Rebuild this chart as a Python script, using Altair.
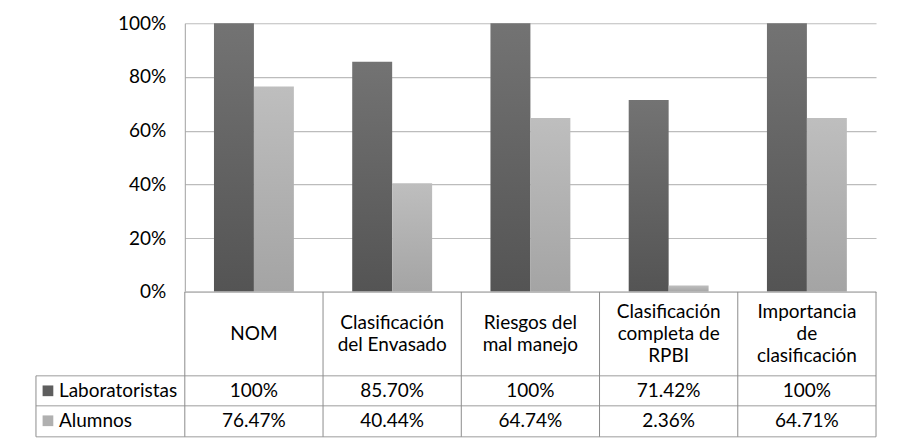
import altair as alt
import pandas as pd

categorias = ["NOM", "Clasificación del Envasado", "Riesgos del mal manejo",
              "Clasificación completa de RPBI", "Importancia de clasificación"]
encabezados = ["NOM", "Clasificación\ndel Envasado", "Riesgos del\nmal manejo",
               "Clasificación\ncompleta de\nRPBI", "Importancia\nde\nclasificación"]
series = ["Laboratoristas", "Alumnos"]
laboratoristas = [1.00, 0.857, 1.00, 0.7142, 1.00]
alumnos = [0.7647, 0.4044, 0.6474, 0.0236, 0.6471]
etiquetas_lab = ["100%", "85.70%", "100%", "71.42%", "100%"]
etiquetas_alu = ["76.47%", "40.44%", "64.74%", "2.36%", "64.71%"]
y_ticks = [0, 0.2, 0.4, 0.6, 0.8, 1.0]

rows = []
for c, v, e in zip(categorias, laboratoristas, etiquetas_lab):
    rows.append({"cat": c, "serie": "Laboratoristas", "valor": v, "etiqueta": e})
for c, v, e in zip(categorias, alumnos, etiquetas_alu):
    rows.append({"cat": c, "serie": "Alumnos", "valor": v, "etiqueta": e})
df = pd.DataFrame(rows)
df_cab = pd.DataFrame({"cat": categorias, "texto": encabezados,
                       "n": [t.count("\n") + 1 for t in encabezados]})
df_leg = pd.DataFrame({"serie": series})
df_one = pd.DataFrame({"k": [0]})

W, H = 692, 269
FONT = "Lato"
FS = 19
LH = 22
ROW1, ROW2 = 368, 398
HEAD_MID = 311
TAB_TOP, TAB_R1, TAB_R2, TAB_BOT = H, 353, 383, 414
LEFT = -149

y_axis = alt.Axis(values=y_ticks, format="%", grid=True, gridColor="#bcbcbc", gridWidth=1.2,
                  domain=True, domainColor="#a0a0a0", ticks=False, tickSize=0,
                  labelPadding=19, labelFontSize=FS, labelFont=FONT, labelColor="#000000",
                  title=None)
x_bar = alt.X("cat:N", sort=categorias,
              scale=alt.Scale(type="band", domain=categorias, paddingInner=0.422, paddingOuter=0.211),
              axis=None)
x_off = alt.XOffset("serie:N", sort=series,
                    scale=alt.Scale(domain=series, paddingInner=0, paddingOuter=0))
y_enc = alt.Y("valor:Q", scale=alt.Scale(domain=[0, 1], nice=False), axis=y_axis)

grad_dark = alt.Gradient(gradient="linear", x1=0, x2=0, y1=0, y2=1,
                         stops=[alt.GradientStop(color="#737373", offset=0),
                                alt.GradientStop(color="#545454", offset=1)])
grad_light = alt.Gradient(gradient="linear", x1=0, x2=0, y1=0, y2=1,
                          stops=[alt.GradientStop(color="#bebebe", offset=0),
                                 alt.GradientStop(color="#a4a4a4", offset=1)])

base = alt.Chart(df)
bars_lab = base.transform_filter(alt.datum.serie == "Laboratoristas").mark_bar(
    color=grad_dark).encode(x=x_bar, xOffset=x_off, y=y_enc)
bars_alu = base.transform_filter(alt.datum.serie == "Alumnos").mark_bar(
    color=grad_light).encode(x=x_bar, xOffset=x_off, y=y_enc)

tab_scale = alt.Scale(type="band", domain=categorias, paddingInner=0, paddingOuter=0)
x_tab = alt.X("cat:N", sort=categorias, scale=tab_scale, axis=None)
x_tab_r = alt.X("cat:N", sort=categorias, bandPosition=1, scale=tab_scale, axis=None)

HCOL = "#bdbdbd"
VCOL = "#8c8c8c"
one = alt.Chart(df_one)
hrules = [
    one.mark_rule(color=HCOL, strokeWidth=1.5).encode(x=alt.value(0), x2=alt.value(W), y=alt.value(TAB_TOP)),
    one.mark_rule(color=HCOL, strokeWidth=1.5).encode(x=alt.value(LEFT), x2=alt.value(W), y=alt.value(TAB_R1)),
    one.mark_rule(color=HCOL, strokeWidth=1.5).encode(x=alt.value(LEFT), x2=alt.value(W), y=alt.value(TAB_R2)),
    one.mark_rule(color=HCOL, strokeWidth=1.5).encode(x=alt.value(LEFT), x2=alt.value(W), y=alt.value(TAB_BOT)),
]
vrules = [
    one.mark_rule(color=VCOL).encode(x=alt.value(0), y=alt.value(TAB_TOP), y2=alt.value(TAB_BOT)),
    one.mark_rule(color=VCOL).encode(x=alt.value(LEFT), y=alt.value(TAB_R1), y2=alt.value(TAB_BOT)),
    alt.Chart(df_cab).mark_rule(color=VCOL).encode(x=x_tab_r, y=alt.value(TAB_TOP), y2=alt.value(TAB_BOT)),
]

headers = []
for k in (1, 2, 3):
    headers.append(
        alt.Chart(df_cab).transform_filter(alt.datum.n == k).mark_text(
            font=FONT, fontSize=FS, lineBreak="\n", lineHeight=LH,
            align="center", baseline="middle", color="#000000").encode(
            x=x_tab, y=alt.value(HEAD_MID - (k - 1) * LH / 2), text="texto:N")
    )
vals_lab = base.transform_filter(alt.datum.serie == "Laboratoristas").mark_text(
    font=FONT, fontSize=FS, align="center", baseline="middle", color="#000000").encode(
    x=x_tab, y=alt.value(ROW1), text="etiqueta:N")
vals_alu = base.transform_filter(alt.datum.serie == "Alumnos").mark_text(
    font=FONT, fontSize=FS, align="center", baseline="middle", color="#000000").encode(
    x=x_tab, y=alt.value(ROW2), text="etiqueta:N")

leg = alt.Chart(df_leg)
leg_sq1 = leg.transform_filter(alt.datum.serie == "Laboratoristas").mark_square(
    size=115, color="#5e5e5e", opacity=1).encode(x=alt.value(-137), y=alt.value(ROW1))
leg_sq2 = leg.transform_filter(alt.datum.serie == "Alumnos").mark_square(
    size=115, color="#b0b0b0", opacity=1).encode(x=alt.value(-137), y=alt.value(ROW2))
leg_t1 = leg.transform_filter(alt.datum.serie == "Laboratoristas").mark_text(
    font=FONT, fontSize=FS, align="left", baseline="middle", color="#000000").encode(
    x=alt.value(-126), y=alt.value(ROW1), text="serie:N")
leg_t2 = leg.transform_filter(alt.datum.serie == "Alumnos").mark_text(
    font=FONT, fontSize=FS, align="left", baseline="middle", color="#000000").encode(
    x=alt.value(-126), y=alt.value(ROW2), text="serie:N")

chart = alt.layer(
    bars_lab, bars_alu, *hrules, *vrules, *headers, vals_lab, vals_alu,
    leg_sq1, leg_sq2, leg_t1, leg_t2
).resolve_scale(x="independent").properties(
    width=W, height=H,
    autosize=alt.AutoSizeParams(type="none"),
    padding={"left": 177, "top": 15, "right": 15, "bottom": 152},
    background="#ffffff",
).configure_view(stroke=None)

chart.save("out.html", embed_options={"renderer": "svg", "actions": False})
